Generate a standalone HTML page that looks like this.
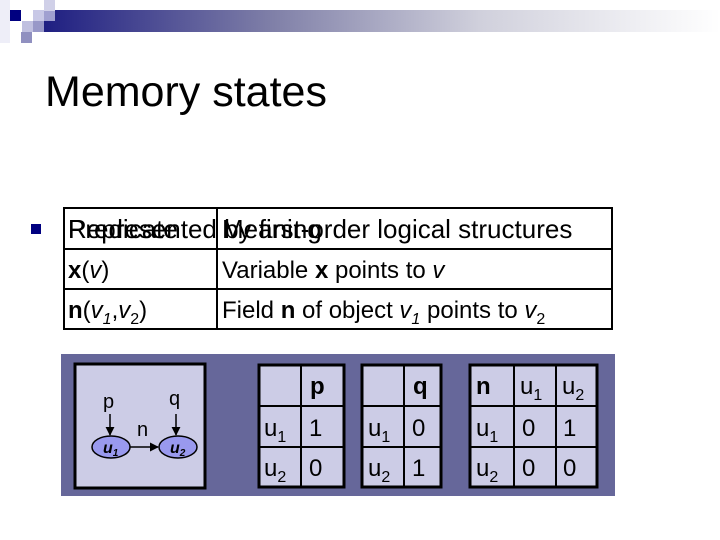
<!DOCTYPE html>
<html><head><meta charset="utf-8"><style>
body{margin:0;background:#fff}
svg{display:block}
text{font-family:"Liberation Sans",sans-serif}
</style></head><body>
<svg width="720" height="540" viewBox="0 0 720 540" xmlns="http://www.w3.org/2000/svg">
<defs><linearGradient id="g" x1="0" x2="1" y1="0" y2="0">
<stop offset="0" stop-color="#1a1a80"/><stop offset="0.35" stop-color="#8080a8"/><stop offset="0.65" stop-color="#d0d0dc"/><stop offset="1" stop-color="#ffffff"/></linearGradient>
<marker id="ar" viewBox="0 0 10 10" refX="9" refY="5" markerWidth="6" markerHeight="6" orient="auto"><path d="M0,0L10,5L0,10z" fill="#000"/></marker></defs>
<rect x="0" y="0" width="10" height="43" fill="#eeeef8"/>
<rect x="33" y="10" width="687" height="22" fill="url(#g)"/>
<rect x="10" y="10" width="11" height="11" fill="#000080"/>
<rect x="33" y="10" width="11" height="11" fill="#c8c8e6"/>
<rect x="44" y="0" width="11" height="11" fill="#d0d0e8"/>
<rect x="44" y="11" width="11" height="10" fill="#a0a0d0"/>
<rect x="22" y="21" width="11" height="11" fill="#c0c0e0"/>
<rect x="33" y="21" width="11" height="11" fill="#9898c8"/>
<rect x="21" y="32" width="11" height="11" fill="#9090c0"/>
<text x="45" y="106" font-size="43">Memory states</text>
<rect x="31" y="224" width="10" height="10" fill="#000080"/>
<rect x="64" y="208" width="548" height="121" fill="#fff" stroke="#000" stroke-width="2"/>
<line x1="64" y1="249" x2="612" y2="249" stroke="#000" stroke-width="2"/>
<line x1="64" y1="289" x2="612" y2="289" stroke="#000" stroke-width="2"/>
<line x1="217" y1="208" x2="217" y2="329" stroke="#000" stroke-width="2"/>
<text x="68" y="238" font-size="26">Predicate</text>
<text x="68" y="238" font-size="26">Represented by first-order logical structures</text>
<text x="222" y="238" font-size="26">Meaning</text>
<text x="68" y="278" font-size="24"><tspan font-weight="bold">x</tspan>(<tspan font-style="italic">v</tspan>)</text>
<text x="222" y="278" font-size="24">Variable <tspan font-weight="bold">x</tspan> points to <tspan font-style="italic">v</tspan></text>
<text x="68" y="318" font-size="24"><tspan font-weight="bold">n</tspan>(<tspan font-style="italic">v<tspan font-size="16" dy="6">1</tspan></tspan><tspan dy="-6">,</tspan><tspan font-style="italic">v</tspan><tspan font-size="16" dy="6">2</tspan><tspan dy="-6">)</tspan></text>
<text x="222" y="318" font-size="24">Field <tspan font-weight="bold">n</tspan> of object <tspan font-style="italic">v<tspan font-size="16" dy="6">1</tspan></tspan><tspan dy="-6"> points to </tspan><tspan font-style="italic">v</tspan><tspan font-size="16" dy="6">2</tspan></text>
<rect x="61" y="354" width="554" height="142" fill="#66679a"/>
<rect x="75" y="364" width="130" height="124" fill="#ccccE6" stroke="#000" stroke-width="3"/>
<text x="103" y="408" font-size="20">p</text>
<text x="169" y="405" font-size="20">q</text>
<text x="137" y="436" font-size="20">n</text>
<line x1="110" y1="414" x2="110" y2="435" stroke="#000" stroke-width="1.5" marker-end="url(#ar)"/>
<line x1="176" y1="414" x2="176" y2="435" stroke="#000" stroke-width="1.5" marker-end="url(#ar)"/>
<line x1="130" y1="447" x2="158" y2="447" stroke="#000" stroke-width="1.5" marker-end="url(#ar)"/>
<ellipse cx="111" cy="447" rx="19" ry="11" fill="#9999ee" stroke="#000" stroke-width="1.5"/>
<ellipse cx="178" cy="447" rx="19" ry="11" fill="#9999ee" stroke="#000" stroke-width="1.5"/>
<text x="103" y="453" font-size="16" font-weight="bold" font-style="italic">u<tspan font-size="10" dy="3">1</tspan></text>
<text x="170" y="453" font-size="16" font-weight="bold" font-style="italic">u<tspan font-size="10" dy="3">2</tspan></text>
<g stroke="#000" fill="#ccccE6">
<rect x="259" y="365" width="85" height="122" stroke-width="3"/>
<rect x="362" y="365" width="79" height="122" stroke-width="3"/>
<rect x="470" y="365" width="127" height="122" stroke-width="3"/>
</g>
<g stroke="#000" stroke-width="2">
<line x1="259" y1="406" x2="344" y2="406"/><line x1="259" y1="447" x2="344" y2="447"/><line x1="301" y1="365" x2="301" y2="487"/>
<line x1="362" y1="406" x2="441" y2="406"/><line x1="362" y1="447" x2="441" y2="447"/><line x1="404" y1="365" x2="404" y2="487"/>
<line x1="470" y1="406" x2="597" y2="406"/><line x1="470" y1="447" x2="597" y2="447"/><line x1="514" y1="365" x2="514" y2="487"/><line x1="556" y1="365" x2="556" y2="487"/>
</g>
<g font-size="24">
<text x="310" y="394" font-weight="bold">p</text>
<text x="264" y="436">u<tspan font-size="16" dy="6">1</tspan></text><text x="309" y="436">1</text>
<text x="264" y="476">u<tspan font-size="16" dy="6">2</tspan></text><text x="309" y="476">0</text>
<text x="413" y="394" font-weight="bold">q</text>
<text x="368" y="436">u<tspan font-size="16" dy="6">1</tspan></text><text x="412" y="436">0</text>
<text x="368" y="476">u<tspan font-size="16" dy="6">2</tspan></text><text x="412" y="476">1</text>
<text x="476" y="394" font-weight="bold">n</text>
<text x="520" y="394">u<tspan font-size="16" dy="6">1</tspan></text><text x="562" y="394">u<tspan font-size="16" dy="6">2</tspan></text>
<text x="476" y="436">u<tspan font-size="16" dy="6">1</tspan></text><text x="522" y="436">0</text><text x="563" y="436">1</text>
<text x="476" y="476">u<tspan font-size="16" dy="6">2</tspan></text><text x="522" y="476">0</text><text x="563" y="476">0</text>
</g>
</svg>
</body></html>
